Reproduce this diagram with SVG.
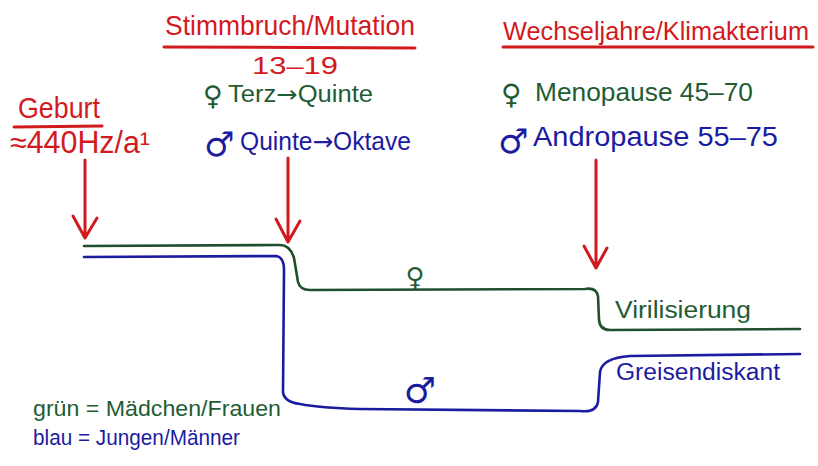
<svg xmlns="http://www.w3.org/2000/svg" width="818" height="466" viewBox="0 0 818 466">
<style>
text{font-family:"Liberation Sans","DejaVu Sans",sans-serif;}
.sym{font-family:"DejaVu Sans",sans-serif;}
.r{fill:#d21a1e}
.g{fill:#1f5c34}
.b{fill:#1c1ca0}
.rl{stroke:#d21a1e;stroke-width:3;fill:none;stroke-linecap:round;stroke-linejoin:round}
.gl{stroke:#1f4f2c;stroke-width:2.6;fill:none;stroke-linecap:round;stroke-linejoin:round}
.bl{stroke:#1c1ca0;stroke-width:2.6;fill:none;stroke-linecap:round;stroke-linejoin:round}
</style>
<rect width="818" height="466" fill="#ffffff"/>

<g id="geburt">
<text class="r" x="18" y="118" font-size="29" textLength="82" lengthAdjust="spacingAndGlyphs">Geburt</text>
<line x1="14" y1="127" x2="102" y2="126" class="rl" stroke-width="2.5"/>
<text class="r" x="10" y="153" font-size="31" textLength="140" lengthAdjust="spacingAndGlyphs">≈440Hz/a¹</text>
</g>

<g id="stimmbruch">
<text class="r" x="165" y="35" font-size="28" textLength="250" lengthAdjust="spacingAndGlyphs">Stimmbruch/Mutation</text>
<line x1="164" y1="47" x2="415" y2="48" class="rl" stroke-width="2.5"/>
<text class="r" x="252" y="74" font-size="24" textLength="86" lengthAdjust="spacingAndGlyphs">13–19</text>
<text class="g sym" x="203" y="105" font-size="27">♀</text>
<text class="g" x="228" y="102" font-size="23" textLength="145" lengthAdjust="spacingAndGlyphs">Terz<tspan class="sym">→</tspan>Quinte</text>
<text class="b sym" x="204" y="156" font-size="34">♂</text>
<text class="b" x="240" y="150" font-size="25" textLength="171" lengthAdjust="spacingAndGlyphs">Quinte<tspan class="sym">→</tspan>Oktave</text>
</g>

<g id="wechseljahre">
<text class="r" x="503" y="40" font-size="26" textLength="306" lengthAdjust="spacingAndGlyphs">Wechseljahre/Klimakterium</text>
<line x1="503" y1="47" x2="813" y2="47" class="rl" stroke-width="2.5"/>
<text class="g sym" x="501" y="104" font-size="28">♀</text>
<text class="g" x="535" y="101" font-size="26" textLength="218" lengthAdjust="spacingAndGlyphs">Menopause 45–70</text>
<text class="b sym" x="498" y="153" font-size="34">♂</text>
<text class="b" x="533" y="146" font-size="27" textLength="245" lengthAdjust="spacingAndGlyphs">Andropause 55–75</text>
</g>

<g id="labels">
<text class="g" x="615" y="318" font-size="23" textLength="136" lengthAdjust="spacingAndGlyphs">Virilisierung</text>
<text class="b" x="616" y="380" font-size="23" textLength="164" lengthAdjust="spacingAndGlyphs">Greisendiskant</text>
<text class="g sym" x="415" y="286" font-size="26" text-anchor="middle">♀</text>
<text class="b sym" x="420" y="403" font-size="36" text-anchor="middle">♂</text>
</g>

<g id="legend">
<text class="g" x="33" y="416" font-size="22" textLength="248" lengthAdjust="spacingAndGlyphs">grün = Mädchen/Frauen</text>
<text class="b" x="33" y="445" font-size="22" textLength="207" lengthAdjust="spacingAndGlyphs">blau = Jungen/Männer</text>
</g>

<g id="connectors">
<path class="rl" d="M85 160 L85 238 M73 216 L85 238 L97 218"/>
<path class="rl" d="M288 158 L288 242 M276 219 L288 242 L300 221"/>
<path class="rl" d="M596 160 L596 268 M584 246 L596 268 L607 248"/>
<path class="gl" d="M84 246 L280 245 Q290 245 294 258 L298 282 Q300 290 310 290 L585 289 Q596 287 598 296 L599 320 Q600 330 610 330 L800 329"/>
<path class="bl" d="M84 257 L276 256 Q284 257 284 270 L283 392 Q284 402 300 404 Q320 408 360 409 L580 411 Q596 413 598 402 L600 372 Q602 358 630 356 L800 354"/>
</g>
</svg>
